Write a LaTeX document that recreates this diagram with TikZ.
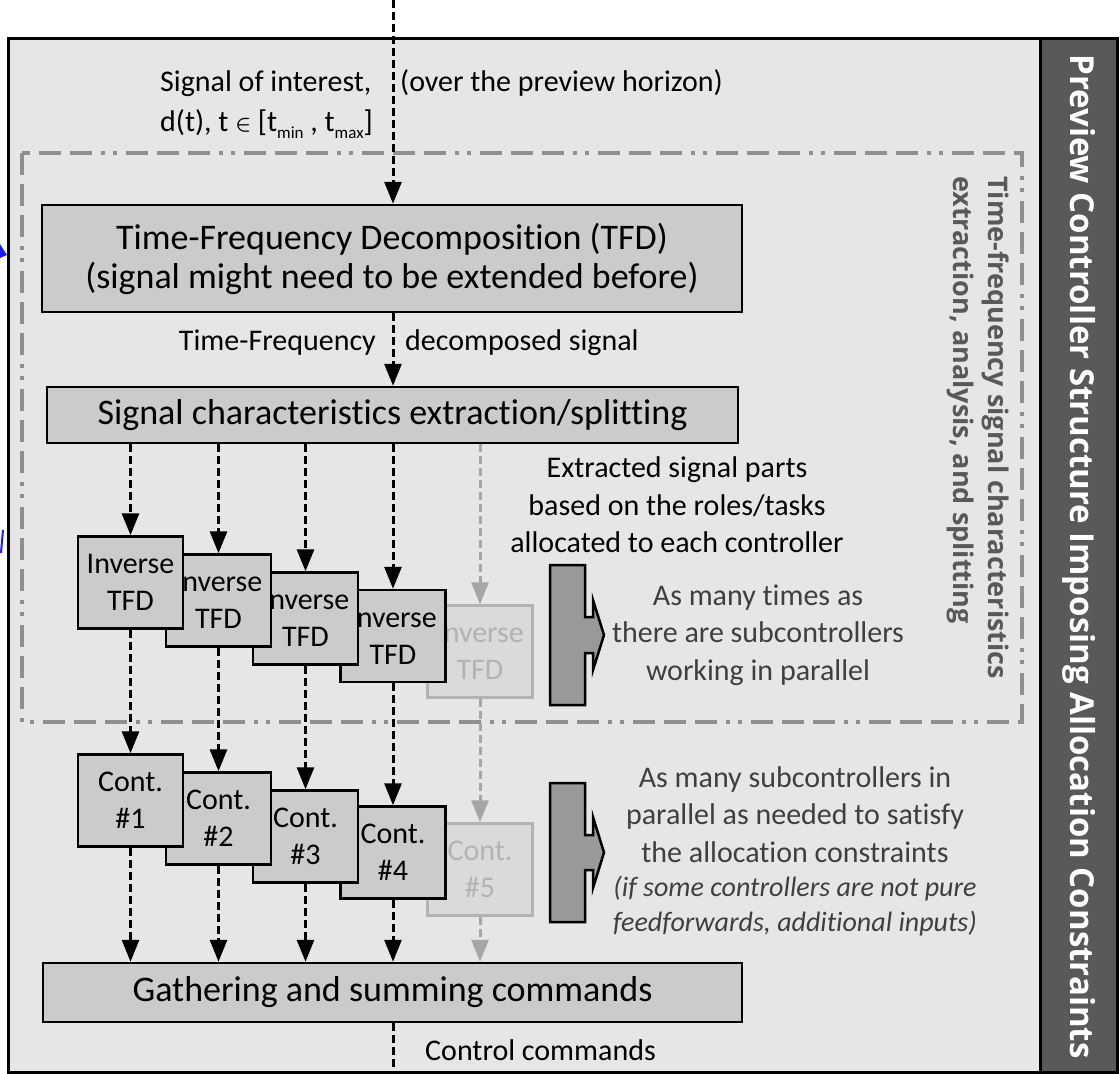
\documentclass[tikz,border=0pt]{standalone}
\usepackage{fontspec}
\setmainfont[Ligatures=NoCommon]{Carlito}
\newfontfamily\sidefont{Open Sans}
\usetikzlibrary{arrows.meta}
\definecolor{bglight}{HTML}{E6E6E6}
\definecolor{boxfill}{HTML}{CBCBCB}
\definecolor{barfill}{HTML}{595959}
\definecolor{dashgray}{HTML}{8F8F8F}
\definecolor{vtext}{HTML}{595959}
\definecolor{notetext}{HTML}{3F3F3F}
\definecolor{blockfill}{HTML}{999999}
\definecolor{fadefill}{HTML}{DADADA}
\definecolor{fadeline}{HTML}{B3B3B3}
\definecolor{fadearrow}{HTML}{A6A6A6}
\definecolor{edgeblue}{HTML}{1A1AFF}
\begin{document}
\begin{tikzpicture}[x=1pt,y=-1pt,
  bigbox/.style={draw=black, line width=2.5pt, fill=boxfill, align=center,
    font=\fontsize{36}{39}\selectfont, inner sep=0pt},
  smallbox/.style={draw=black, line width=2.5pt, fill=boxfill, align=center,
    font=\fontsize{30}{37}\selectfont, minimum width=105pt, minimum height=92pt, inner sep=0pt},
  fadebox/.style={smallbox, draw=fadeline, fill=fadefill, text=fadeline},
  lbl/.style={font=\fontsize{30}{37.5}\selectfont, inner sep=0pt},
  note/.style={lbl, align=center, text=notetext},
  dline/.style={black, line width=3pt, dash pattern=on 8pt off 4pt},
  flow/.style={dline, -{Triangle[width=17pt,length=22pt]}},
  fadeflow/.style={flow, fadearrow},
  blockarrow/.style={draw=black, line width=2.5pt, fill=blockfill, line join=miter},
  dashdot/.style={dashgray, line width=3.5pt,
    dash pattern=on 22pt off 9pt on 22pt off 9pt on 22pt off 9pt on 4pt off 8pt on 4pt off 9pt}
]
\useasboundingbox (0,0) rectangle (1120,1074);

% containers
\path[fill=bglight, draw=black, line width=3pt] (8,38) rectangle (1040,1072);
\path[fill=barfill, draw=black, line width=3pt] (1040,38) rectangle (1117,1072);
\draw[dashdot] (22,153) rectangle (1022,722);

% stray blue marks at the left edge
\fill[edgeblue] (0,244) -- (7,255) -- (0,258) -- cycle;
\draw[edgeblue, line width=2pt] (1,553) -- (3,530);

% side titles
\node[rotate=-90, text=white, font=\sidefont\bfseries\fontsize{33}{38}\selectfont, inner sep=0pt] (title) at (1079,556.5)
  {Preview Controller Structure Imposing Allocation Constraints};
\node[rotate=-90, anchor=north west, text=vtext, align=left, font=\sidefont\bfseries\fontsize{27}{35}\selectfont, inner sep=0pt] (stage) at (1009,176)
  {Time-frequency signal characteristics\\extraction, analysis, and splitting};

% input signal labels
\coordinate (topin) at (393,0);
\coordinate (botout) at (393,1074);
\node[lbl, anchor=base west] (sig1) at (160,91) {Signal of interest,};
\node[lbl, anchor=base west] (sig2) at (160,131)
  {d(t), t \raisebox{1pt}{\fontsize{22}{22}\selectfont\boldmath$\in$} [t\raisebox{-7pt}{\fontsize{17}{17}\selectfont min} , t\raisebox{-7pt}{\fontsize{17}{17}\selectfont max}]};
\node[lbl, anchor=base west] (horizon) at (400,91) {(over the preview horizon)};

% main blocks
\node[bigbox, minimum width=700pt, minimum height=107pt] (tfd) at (392,258.5)
  {Time-Frequency Decomposition (TFD)\\(signal might need to be extended before)};
\node[bigbox, minimum width=691pt, minimum height=56pt] (split) at (392.5,415)
  {Signal characteristics extraction/splitting};
\node[bigbox, minimum width=699pt, minimum height=59pt] (gather) at (392.5,992.5)
  {Gathering and summing commands};

\node[lbl, anchor=base east] (tflbl) at (376,350) {Time-Frequency};
\node[lbl, anchor=base west] (dslbl) at (405,350) {decomposed signal};
\node[lbl, anchor=base west] (cclbl) at (425,1060) {Control commands};

% stacked inverse transforms (back to front)
\node[fadebox] (inv5) at (480,651.5) {Inverse\\TFD};
\node[smallbox] (inv4) at (393,636) {Inverse\\TFD};
\node[smallbox] (inv3) at (305.5,618.5) {Inverse\\TFD};
\node[smallbox] (inv2) at (218.5,600.5) {Inverse\\TFD};
\node[smallbox] (inv1) at (130.5,582.5) {Inverse\\TFD};

% stacked subcontrollers (back to front)
\node[fadebox] (cont5) at (480,869.5) {Cont.\\\#5};
\node[smallbox] (cont4) at (393,852.5) {Cont.\\\#4};
\node[smallbox] (cont3) at (305.5,836.5) {Cont.\\\#3};
\node[smallbox] (cont2) at (218.5,818.5) {Cont.\\\#2};
\node[smallbox] (cont1) at (130.5,800.5) {Cont.\\\#1};

% signal flow
\draw[flow] (topin) -- (topin |- tfd.north);
\draw[flow] (tfd.south -| topin) -- (split.north -| topin);
\foreach \i in {1,2,3,4}{
  \draw[flow] (split.south -| inv\i) -- (inv\i.north);
  \draw[flow] (inv\i.south) -- (cont\i.north);
  \draw[flow] (cont\i.south) -- (gather.north -| cont\i);
}
\draw[fadeflow] (split.south -| inv5) -- (inv5.north);
\draw[fadeflow] (inv5.south) -- (cont5.north);
\draw[fadeflow] (cont5.south) -- (gather.north -| cont5);
\draw[dline] (gather.south -| topin) -- (botout);

% replication block arrows
\path[blockarrow] (550,565) -- (585,565) -- (585,617) -- (593,617) -- (593,600) -- (604,635)
  -- (593,670) -- (593,653) -- (585,653) -- (585,705) -- (550,705) -- cycle;
\path[blockarrow] (550,783) -- (585,783) -- (585,835) -- (593,835) -- (593,817) -- (604,852.5)
  -- (593,888) -- (593,870) -- (585,870) -- (585,922) -- (550,922) -- cycle;

% annotations
\node[lbl, align=center] (parts) at (677,505)
  {Extracted signal parts\\based on the roles/tasks\\allocated to each controller};
\node[note] (times) at (758,635)
  {As many times as\\there are subcontrollers\\working in parallel};
\node[note, anchor=north] (many) at (795,766)
  {As many subcontrollers in\\parallel as needed to satisfy\\the allocation constraints\\[-3pt]
   {\fontsize{28}{33}\selectfont\itshape (if some controllers are not pure}\\[-3pt]
   {\fontsize{28}{33}\selectfont\itshape feedforwards, additional inputs)}};
\end{tikzpicture}
\end{document}
